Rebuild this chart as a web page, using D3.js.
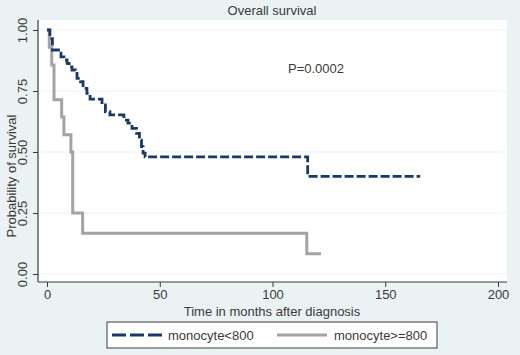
<!DOCTYPE html>
<html><head><meta charset="utf-8">
<script src="https://cdn.jsdelivr.net/npm/d3@7"></script>
<style>
html,body{margin:0;padding:0;background:#eaf2f3;}
svg{display:block;font-family:"Liberation Sans",Arial,sans-serif;}
</style></head>
<body><svg id="chart" width="520" height="355"></svg>
<script>
// ---- data ----
const chartTitle = "Overall survival";
const pLabel = "P=0.0002";
const xTicks = [0, 50, 100, 150, 200];
const yTicks = [0, 0.25, 0.5, 0.75, 1];
const seriesNames = ["monocyte<800", "monocyte>=800"];
// Kaplan-Meier step data (time in months, survival after step)
const lowTimes = [0, 1.3, 2.4, 5.1, 6.2, 7.5, 8.9, 9.8, 11.1, 12.6, 13.3, 14.9, 16, 17.7, 19.1, 24.4, 25.9, 27.9, 34.1, 35.9, 37.7, 39.7, 41, 41.9, 42.6, 43.5, 115.6, 165.5];
const lowSurv  = [1, 0.965, 0.918, 0.905, 0.89, 0.877, 0.863, 0.849, 0.836, 0.822, 0.802, 0.788, 0.761, 0.74, 0.717, 0.693, 0.665, 0.652, 0.631, 0.618, 0.597, 0.576, 0.549, 0.522, 0.495, 0.48, 0.40, 0.40];
const highTimes = [0, 1.0, 2.1, 3.1, 6.5, 7.5, 10.6, 11.4, 15.8, 115.2, 121.5];
const highSurv  = [1, 0.929, 0.857, 0.714, 0.643, 0.571, 0.5, 0.25, 0.167, 0.083, 0.083];

const svg = d3.select("#chart");
const plot = {x0: 38, x1: 507, y0: 20, y1: 282};
const x = d3.scaleLinear().domain([0, 200]).range([47, 498]);
const y = d3.scaleLinear().domain([0, 1]).range([274, 30]);
const navy = "#1a3a66", gray = "#a3a3a3", ink = "#3a3a3a";

svg.append("rect").attr("x", plot.x0).attr("y", plot.y0)
  .attr("width", plot.x1 - plot.x0).attr("height", plot.y1 - plot.y0).attr("fill", "#ffffff");

// gridlines
svg.append("g").selectAll("line").data(yTicks).join("line")
  .attr("x1", plot.x0).attr("x2", plot.x1)
  .attr("y1", d => y(d)).attr("y2", d => y(d))
  .attr("stroke", "#edf3f4").attr("stroke-width", 1);

// title
svg.append("text").attr("x", 272).attr("y", 15).attr("text-anchor", "middle")
  .attr("font-size", 13).attr("fill", ink).text(chartTitle);

// axes
const xAxis = svg.append("g").attr("transform", `translate(0,${plot.y1})`)
  .call(d3.axisBottom(x).tickValues(xTicks).tickSize(5).tickPadding(3).tickFormat(d3.format("d")));
xAxis.select(".domain").remove();
xAxis.selectAll("line").attr("stroke", ink);
xAxis.selectAll("text").attr("font-size", 13).attr("fill", ink).attr("font-family", "Liberation Sans, Arial");
svg.append("line").attr("x1", plot.x0).attr("x2", plot.x1).attr("y1", plot.y1).attr("y2", plot.y1)
  .attr("stroke", ink).attr("stroke-width", 1.2);

const yAxis = svg.append("g").attr("transform", `translate(${plot.x0},0)`)
  .call(d3.axisLeft(y).tickValues(yTicks).tickSize(5).tickFormat(d3.format(".2f")));
yAxis.select(".domain").remove();
yAxis.selectAll("line").attr("stroke", ink);
yAxis.selectAll("text").attr("font-size", 13).attr("fill", ink).attr("font-family", "Liberation Sans, Arial")
  .attr("text-anchor", "middle").attr("dy", null).attr("x", null)
  .attr("transform", "translate(-11,0) rotate(-90)").attr("y", 0);
svg.append("line").attr("x1", plot.x0).attr("x2", plot.x0).attr("y1", plot.y0).attr("y2", plot.y1)
  .attr("stroke", ink).attr("stroke-width", 1.2);

// axis titles
svg.append("text").attr("x", 272).attr("y", 316).attr("text-anchor", "middle")
  .attr("font-size", 13).attr("fill", ink).text("Time in months after diagnosis");
svg.append("text").attr("transform", "translate(16,176) rotate(-90)").attr("text-anchor", "middle")
  .attr("font-size", 13).attr("fill", ink).text("Probability of survival");

// p-value
svg.append("text").attr("x", 288).attr("y", 73).attr("font-size", 13).attr("fill", ink).text(pLabel);

// curves
const line = d3.line().x(d => x(d[0])).y(d => y(d[1])).curve(d3.curveStepAfter);
const highData = highTimes.map((t, i) => [t, highSurv[i]]);
const lowData = lowTimes.map((t, i) => [t, lowSurv[i]]);
svg.append("path").datum(highData).attr("d", line).attr("fill", "none")
  .attr("stroke", gray).attr("stroke-width", 3);
svg.append("path").datum(lowData).attr("d", line).attr("fill", "none")
  .attr("stroke", navy).attr("stroke-width", 2.8).attr("stroke-dasharray", "9,3");

// legend
const lg = svg.append("g");
lg.append("rect").attr("x", 107).attr("y", 322).attr("width", 330).attr("height", 26)
  .attr("fill", "#ffffff").attr("stroke", ink).attr("stroke-width", 1);
lg.append("line").attr("x1", 112).attr("x2", 162).attr("y1", 335).attr("y2", 335)
  .attr("stroke", navy).attr("stroke-width", 2.8).attr("stroke-dasharray", "14,4");
lg.append("text").attr("x", 168).attr("y", 340).attr("font-size", 13).attr("fill", ink).text(seriesNames[0]);
lg.append("line").attr("x1", 277).attr("x2", 327).attr("y1", 335).attr("y2", 335)
  .attr("stroke", gray).attr("stroke-width", 3);
lg.append("text").attr("x", 334).attr("y", 340).attr("font-size", 13).attr("fill", ink).text(seriesNames[1]);
</script></body></html>
